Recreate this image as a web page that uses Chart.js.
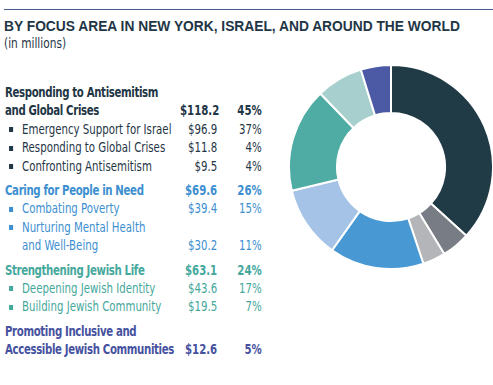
<!DOCTYPE html>
<html>
<head>
<meta charset="utf-8">
<script src="https://cdn.jsdelivr.net/npm/chart.js@4.4.1/dist/chart.umd.min.js"></script>
<style>
  html, body { margin: 0; padding: 0; background: #fff; }
  body { width: 493px; height: 385px; position: relative; overflow: hidden; }
  .rule { position: absolute; left: 4px; right: 0; top: 9px; height: 1px; background: #4a5a8c; }
  .title { position: absolute; left: 4px; top: 18px; font: bold 14.5px "Liberation Sans", Arial, sans-serif; color: #1f3646; white-space: nowrap; transform-origin: left top; }
  .sub { position: absolute; left: 4px; top: 35px; font: 14px "DejaVu Sans Condensed", sans-serif; color: #1f3646; transform: scaleX(0.84); transform-origin: left top; }
  .wrap { position: absolute; left: 5px; top: 83px; transform: scaleX(0.81); transform-origin: left top; }
  #tbl { border-collapse: collapse; table-layout: fixed; width: 317px;
         font: 14px "DejaVu Sans Condensed", sans-serif; line-height: 18.4px; }
  #tbl td { padding: 0; white-space: nowrap; vertical-align: bottom; }
  #tbl td.amt, #tbl td.pct { text-align: right; }
  #tbl tr.head td { font-weight: bold; }
  #tbl tr.head td:first-child { letter-spacing: -0.45px; }
  #tbl tr.gap td { padding-top: 6px; }
  #tbl .item { padding-left: 21px; position: relative; }
  #tbl .item::before { content: ""; position: absolute; left: 5px; bottom: 6px; width: 5px; height: 5px; background: currentColor; }
  #chartBox { position: absolute; left: 288px; top: 64px; width: 206px; height: 206px; }
</style>
</head>
<body>
<div class="rule"></div>
<div class="title" id="title">BY FOCUS AREA IN NEW YORK, ISRAEL, AND AROUND THE WORLD</div>
<div class="sub">(in millions)</div>
<div class="wrap">
<table id="tbl">
  <colgroup><col style="width:216px"><col style="width:46px"><col style="width:55px"></colgroup>
  <tbody></tbody>
</table>
</div>
<div id="chartBox"><canvas id="donut" width="206" height="206"></canvas></div>
<script>
// Focus areas (groups)
const groupNames = ['Responding to Antisemitism\nand Global Crises', 'Caring for People in Need', 'Strengthening Jewish Life', 'Promoting Inclusive and\nAccessible Jewish Communities'];
const groupAmounts = [118.2, 69.6, 63.1, 12.6];
const groupPercents = [45, 26, 24, 5];
const groupColors = ['#1f3646', '#3d8fd0', '#45a89c', '#4652a0'];

// Program lines (slices of the doughnut)
const itemNames = ['Emergency Support for Israel', 'Responding to Global Crises', 'Confronting Antisemitism', 'Combating Poverty', 'Nurturing Mental Health\nand Well-Being', 'Deepening Jewish Identity', 'Building Jewish Community', 'Promoting Inclusive and Accessible Jewish Communities'];
const itemAmounts = [96.9, 11.8, 9.5, 39.4, 30.2, 43.6, 19.5, 12.6];
const itemPercents = [37, 4, 4, 15, 11, 17, 7, 5];
const itemGroup = [0, 0, 0, 1, 1, 2, 2, 3];
const sliceColors = ['#203a46', '#787c84', '#b4b5b9', '#4898d4', '#a4c3e6', '#4eaca4', '#a7cfcd', '#4c5aa6'];

// squeeze the title to its width in the reference
const title = document.getElementById('title');
title.style.transform = 'scaleX(' + (456 / title.offsetWidth) + ')';

// Table on the left
const tbody = document.querySelector('#tbl tbody');
function addRow(label, amount, pct, cls, color, isItem) {
    const lines = label.split('\n');
    lines.forEach(function (line, i) {
        const tr = document.createElement('tr');
        tr.className = cls + (i === 0 && cls.indexOf('gapable') >= 0 ? ' gap' : '');
        tr.style.color = color;
        const last = i === lines.length - 1;
        const td1 = document.createElement('td');
        td1.textContent = line;
        if (isItem) {
            td1.className = i === 0 ? 'item' : '';
            if (i > 0) td1.style.paddingLeft = '21px';
        }
        const td2 = document.createElement('td');
        td2.className = 'amt';
        td2.textContent = last ? '$' + amount.toFixed(1) : '';
        const td3 = document.createElement('td');
        td3.className = 'pct';
        td3.textContent = last ? pct + '%' : '';
        tr.append(td1, td2, td3);
        tbody.appendChild(tr);
    });
}
groupNames.forEach(function (name, g) {
    addRow(name, groupAmounts[g], groupPercents[g], 'head' + (g > 0 ? ' gapable' : ''), groupColors[g], false);
    itemNames.forEach(function (item, k) {
        if (itemGroup[k] === g && item.replace('\n', ' ') !== name.replace('\n', ' ')) {
            addRow(item, itemAmounts[k], itemPercents[k], '', groupColors[g], true);
        }
    });
});

// Doughnut
new Chart(document.getElementById('donut'), {
    type: 'doughnut',
    data: {
        labels: itemNames.map(function (n) { return n.replace('\n', ' '); }),
        datasets: [{
            data: itemAmounts,
            backgroundColor: sliceColors,
            borderColor: '#ffffff',
            borderWidth: 2
        }]
    },
    options: {
        responsive: false,
        animation: false,
        cutout: '53%',
        layout: { padding: 0 },
        plugins: { legend: { display: false }, tooltip: { enabled: false } }
    }
});
</script>
</body>
</html>
